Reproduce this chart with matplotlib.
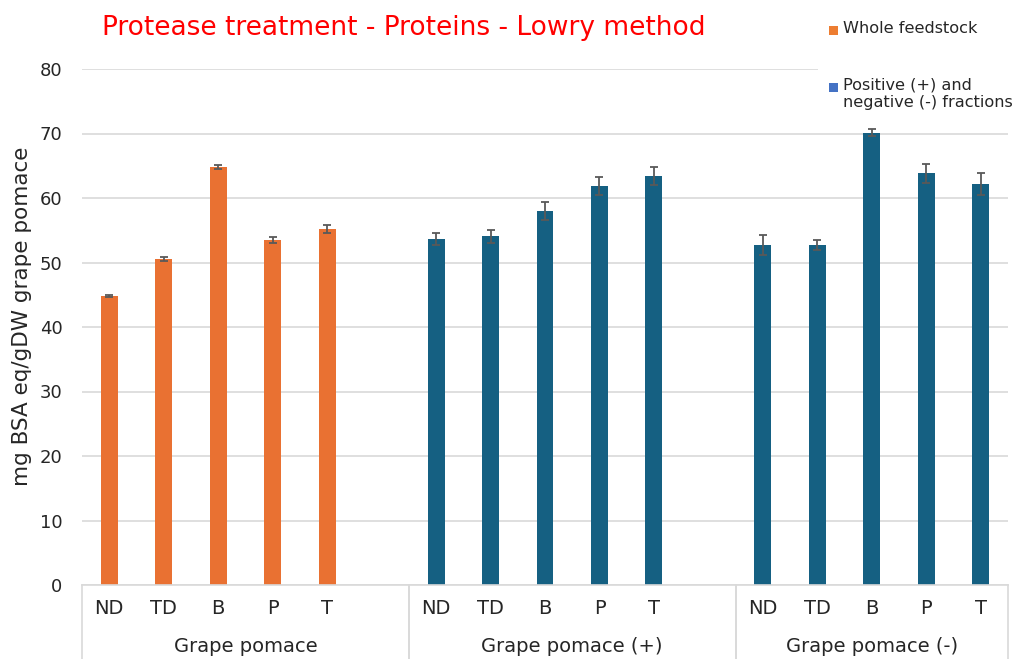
import matplotlib
matplotlib.use("Agg")
import matplotlib.pyplot as plt
from matplotlib.patches import Rectangle

plt.rcParams["font.family"] = ["DejaVu Sans"]

# Data
groups = ["Grape pomace", "Grape pomace (+)", "Grape pomace (-)"]
treatments = ["ND", "TD", "B", "P", "T"]
whole_vals = [44.8, 50.6, 64.8, 53.5, 55.2]
whole_err = [0.15, 0.3, 0.3, 0.45, 0.6]
plus_vals = [53.6, 54.1, 58.0, 61.8, 63.4]
plus_err = [0.9, 1.0, 1.4, 1.4, 1.4]
minus_vals = [52.7, 52.7, 70.1, 63.8, 62.1]
minus_err = [1.5, 0.8, 0.55, 1.45, 1.7]
legend_labels = ["Whole feedstock", "Positive (+) and\nnegative (-) fractions"]

orange = "#E97132"
blue = "#156082"
legend_colors = ["#ED7D31", "#4472C4"]
err_color = "#595959"
grid_color = "#D9D9D9"
text_color = "#262626"

series = [
    (whole_vals, whole_err, orange),
    (plus_vals, plus_err, blue),
    (minus_vals, minus_err, blue),
]

# each category block holds 5 bars followed by one empty slot
slots_per_group = 6
n_slots = slots_per_group * (len(groups) - 1) + len(treatments)

W, H = 1016, 659
fig = plt.figure(figsize=(W / 100, H / 100), dpi=100)
ax = fig.add_axes([82 / W, 74 / H, 926 / W, 516 / H])

for g, (vals, errs, col) in enumerate(series):
    xs = [g * slots_per_group + i for i in range(len(treatments))]
    ax.bar(xs, vals, width=0.31, color=col, zorder=2)
    ax.errorbar(xs, vals, yerr=errs, fmt="none", ecolor=err_color,
                elinewidth=1.3, capsize=3.2, capthick=1.3, zorder=3)

ax.set_xlim(-0.5, n_slots - 0.5)
ax.set_ylim(0, 80)
ax.set_yticks(range(0, 81, 10))
ax.yaxis.grid(True, color=grid_color, linewidth=1.2, zorder=0)
ax.set_axisbelow(True)
for s in ["top", "right", "left"]:
    ax.spines[s].set_visible(False)
ax.spines["bottom"].set_color(grid_color)
ax.spines["bottom"].set_linewidth(1.2)
ax.tick_params(axis="y", length=0, pad=14, labelsize=13, labelcolor=text_color)
ax.set_xticks([])

ax.set_ylabel("mg BSA eq/gDW grape pomace", fontsize=15.5, color=text_color)
ax.yaxis.set_label_coords(-0.054, 0.521)

# two-level category axis
tr = ax.get_xaxis_transform()
for g, name in enumerate(groups):
    start = g * slots_per_group - 0.5
    end = start + (slots_per_group if g < len(groups) - 1 else len(treatments))
    for i, t in enumerate(treatments):
        ax.text(g * slots_per_group + i, -0.046, t, transform=tr,
                ha="center", va="center", fontsize=14, color=text_color)
    ax.text((start + end) / 2, -0.12, name, transform=tr,
            ha="center", va="center", fontsize=14, color=text_color)
    for xb in (start, end):
        ax.plot([xb, xb], [0, -0.145], transform=tr, color=grid_color,
                linewidth=1.2, clip_on=False)

fig.text(404 / W, 1 - 28 / H, "Protease treatment - Proteins - Lowry method",
         ha="center", va="center", fontsize=19, color="#FF0000")

# legend block in the top-right corner, on a white panel over the grid
fig.add_artist(Rectangle((818 / W, 1 - 120 / H), 198 / W, 105 / H,
                         transform=fig.transFigure, facecolor="white",
                         edgecolor="none", zorder=4))
legend_y = [30, 87]
for lab, col, y in zip(legend_labels, legend_colors, legend_y):
    fig.add_artist(Rectangle((829 / W, 1 - (y + 4.5) / H), 9 / W, 9 / H,
                             transform=fig.transFigure, facecolor=col,
                             edgecolor="none", zorder=5))
    fig.text(843 / W, 1 - (y - 9) / H, lab, ha="left", va="top",
             fontsize=11.6, color=text_color, linespacing=1.2, zorder=5)

fig.savefig("out.png", dpi=100)
